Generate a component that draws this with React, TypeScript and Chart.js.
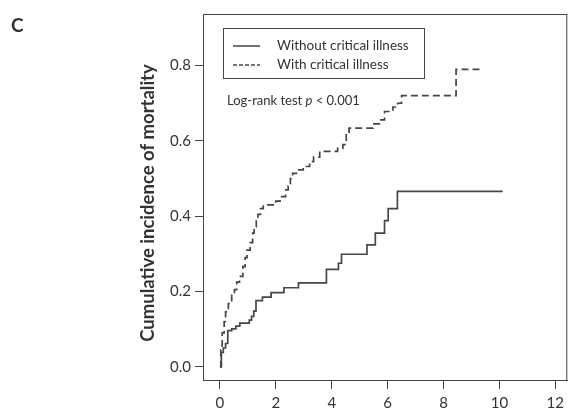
import React, { useEffect, useRef } from "react";
import { Chart, registerables } from "chart.js";

Chart.register(...registerables);

// ---- Data ----
const panelLabel = "C";
const seriesLabels = ["Without critical illness", "With critical illness"];
const yTitle = "Cumulative incidence of mortality";
const annotationParts = ["Log-rank test ", "p", " < 0.001"];

const xTicks = [0, 2, 4, 6, 8, 10, 12];
const yTicks = [0, 0.2, 0.4, 0.6, 0.8];

// Step times (years) and cumulative incidence after each step
const withoutTimes = [0, 0.05, 0.12, 0.2, 0.28, 0.42, 0.57, 0.71, 1.05, 1.13, 1.21, 1.29, 1.52, 1.83, 2.29, 2.81, 3.81, 4.24, 4.35, 5.26, 5.56, 5.89, 6.02, 6.35, 10.12];
const withoutValues = [0, 0.038, 0.05, 0.062, 0.096, 0.101, 0.108, 0.116, 0.124, 0.134, 0.148, 0.176, 0.185, 0.197, 0.21, 0.223, 0.259, 0.275, 0.299, 0.324, 0.355, 0.388, 0.42, 0.466, 0.466];

const withTimes = [0, 0.03, 0.08, 0.15, 0.2, 0.3, 0.42, 0.52, 0.6, 0.7, 0.82, 0.9, 0.97, 1.08, 1.17, 1.22, 1.3, 1.36, 1.45, 1.55, 2.0, 2.15, 2.35, 2.44, 2.52, 2.6, 2.74, 2.98, 3.21, 3.35, 3.57, 4.21, 4.4, 4.52, 4.62, 5.48, 5.71, 5.89, 6.19, 6.36, 6.5, 8.45, 9.38];
const withValues = [0, 0.045, 0.09, 0.12, 0.146, 0.168, 0.19, 0.205, 0.225, 0.24, 0.266, 0.29, 0.31, 0.33, 0.355, 0.372, 0.39, 0.405, 0.42, 0.43, 0.44, 0.452, 0.47, 0.48, 0.5, 0.514, 0.523, 0.532, 0.545, 0.557, 0.572, 0.58, 0.59, 0.62, 0.634, 0.645, 0.656, 0.678, 0.69, 0.7, 0.72, 0.79, 0.79];

const LINE = "#464646";
const TEXT = "#333333";
const FONT = "Lato, 'Open Sans', sans-serif";

const decorPlugin = {
  id: "decor",
  afterDraw(chart: any) {
    const { ctx, chartArea: ca } = chart;
    ctx.save();
    // top & right frame
    ctx.strokeStyle = LINE;
    ctx.lineWidth = 1;
    ctx.beginPath();
    ctx.moveTo(ca.left, ca.top + 0.5);
    ctx.lineTo(ca.right, ca.top + 0.5);
    ctx.moveTo(ca.right - 0.5, ca.top);
    ctx.lineTo(ca.right - 0.5, ca.bottom);
    ctx.stroke();

    // legend box
    const bx = ca.left + 20;
    const by = ca.top + 14;
    const bw = 201;
    const bh = 50;
    ctx.strokeRect(bx + 0.5, by + 0.5, bw, bh);
    const rows = [by + 18, by + 37];
    ctx.lineWidth = 1.5;
    ctx.beginPath();
    ctx.setLineDash([]);
    ctx.moveTo(bx + 10, rows[0]);
    ctx.lineTo(bx + 37, rows[0]);
    ctx.stroke();
    ctx.beginPath();
    ctx.setLineDash([4, 2]);
    ctx.moveTo(bx + 10, rows[1]);
    ctx.lineTo(bx + 37, rows[1]);
    ctx.stroke();
    ctx.setLineDash([]);
    ctx.fillStyle = TEXT;
    ctx.font = `13.5px ${FONT}`;
    ctx.textBaseline = "middle";
    ctx.textAlign = "left";
    ctx.fillText(seriesLabels[0], bx + 54, rows[0]);
    ctx.fillText(seriesLabels[1], bx + 54, rows[1]);

    // annotation
    let ax = ca.left + 24;
    const ay = ca.top + 87;
    ctx.font = `13px ${FONT}`;
    ctx.fillText(annotationParts[0], ax, ay);
    ax += ctx.measureText(annotationParts[0]).width;
    ctx.font = `italic 13px ${FONT}`;
    ctx.fillText(annotationParts[1], ax, ay);
    ax += ctx.measureText(annotationParts[1]).width;
    ctx.font = `13px ${FONT}`;
    ctx.fillText(annotationParts[2], ax, ay);

    // y title
    ctx.save();
    ctx.translate(148, 203);
    ctx.rotate(-Math.PI / 2);
    ctx.textAlign = "center";
    ctx.font = `bold 18.5px ${FONT}`;
    ctx.fillText(yTitle, 0, 0);
    ctx.restore();

    // panel label
    ctx.font = `bold 19px ${FONT}`;
    ctx.textAlign = "left";
    ctx.fillText(panelLabel, 11, 26);
    ctx.restore();
  },
};

export default function App() {
  const ref = useRef<HTMLCanvasElement | null>(null);
  useEffect(() => {
    if (!ref.current) return;
    const chart = new Chart(ref.current, {
      type: "line",
      data: {
        datasets: [
          {
            label: seriesLabels[0],
            data: withoutTimes.map((t, i) => ({ x: t, y: withoutValues[i] })),
            borderColor: LINE,
            borderWidth: 1.7,
            stepped: "before",
            pointRadius: 0,
            fill: false,
          },
          {
            label: seriesLabels[1],
            data: withTimes.map((t, i) => ({ x: t, y: withValues[i] })),
            borderColor: LINE,
            borderWidth: 1.7,
            borderDash: [7, 4],
            stepped: "before",
            pointRadius: 0,
            fill: false,
          },
        ],
      },
      options: {
        responsive: false,
        animation: false,
        layout: { padding: { left: 0, top: 14, right: 1, bottom: 0 } },
        plugins: { legend: { display: false }, tooltip: { enabled: false } },
        scales: {
          x: {
            type: "linear",
            min: -0.607,
            max: 12.43,
            afterBuildTicks: (s: any) => {
              s.ticks = xTicks.map((v) => ({ value: v }));
            },
            afterFit: (s: any) => {
              s.height = 33;
            },
            ticks: {
              color: TEXT,
              font: { family: FONT, size: 15 },
              padding: 5,
              maxRotation: 0,
              autoSkip: false,
            },
            grid: { drawOnChartArea: false, drawTicks: true, tickLength: 9, color: LINE },
            border: { display: true, color: LINE, width: 1 },
          },
          y: {
            type: "linear",
            min: -0.035,
            max: 0.937,
            afterBuildTicks: (s: any) => {
              s.ticks = yTicks.map((v) => ({ value: v }));
            },
            afterFit: (s: any) => {
              s.width = 203;
            },
            ticks: {
              color: TEXT,
              font: { family: FONT, size: 15 },
              padding: 4,
              autoSkip: false,
              callback: (v: any) => Number(v).toFixed(1),
            },
            grid: { drawOnChartArea: false, drawTicks: true, tickLength: 8, color: LINE },
            border: { display: true, color: LINE, width: 1 },
          },
        },
      },
      plugins: [decorPlugin],
    } as any);
    return () => chart.destroy();
  }, []);
  return (
    <div style={{ position: "absolute", left: 0, top: 0, width: 569, height: 413, background: "#fff" }}>
      <canvas ref={ref} width={569} height={413} />
    </div>
  );
}
